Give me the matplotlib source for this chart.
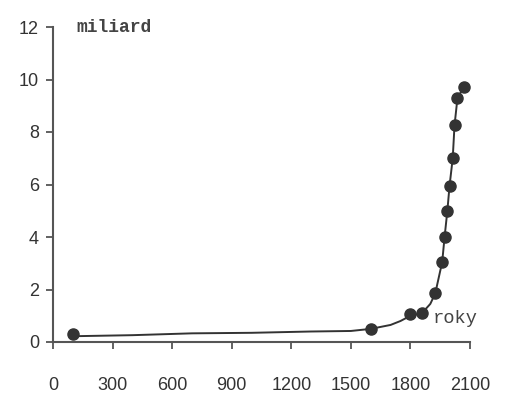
import matplotlib.pyplot as plt

# population in billions (miliard), dots
dot_years = [100, 1600, 1800, 1858, 1925, 1960, 1972, 1986, 1997, 2013, 2022, 2037, 2068]
dot_pop = [0.3, 0.5, 1.05, 1.1, 1.85, 3.05, 4.0, 5.0, 5.95, 7.0, 8.25, 9.3, 9.7]

# smooth line underneath
line_years = [100, 400, 700, 1000, 1300, 1500, 1600, 1700, 1750, 1800, 1858, 1900, 1925,
              1960, 1972, 1986, 1997, 2013, 2022, 2037, 2068]
line_pop = [0.22, 0.26, 0.33, 0.35, 0.4, 0.42, 0.5, 0.65, 0.8, 1.0, 1.1, 1.45, 1.85,
            3.05, 4.0, 5.0, 5.95, 7.0, 8.25, 9.3, 9.7]

xticks = [0, 300, 600, 900, 1200, 1500, 1800, 2100]
yticks = [0, 2, 4, 6, 8, 10, 12]

fig = plt.figure(figsize=(5.13, 3.93), dpi=100)
ax = fig.add_axes([53/513, 51/393, 417/513, 315/393])

ax.plot(line_years, line_pop, color='#333333', lw=1.4, zorder=2)
ax.plot(dot_years, dot_pop, 'o', color='#333333', ms=8, zorder=3)

ax.set_xlim(0, 2100)
ax.set_ylim(0, 12)
ax.set_xticks(xticks)
ax.set_yticks(yticks)

for s in ['top', 'right']:
    ax.spines[s].set_visible(False)
for s in ['left', 'bottom']:
    ax.spines[s].set_color('#555555')
    ax.spines[s].set_linewidth(1.5)

ax.tick_params(axis='x', direction='out', length=5, width=1.3, color='#555555',
               pad=20, labelsize=13, labelcolor='#333333')
ax.tick_params(axis='y', direction='out', length=5, width=1.3, color='#555555',
               pad=5, labelsize=13, labelcolor='#333333')
for lab in ax.get_xticklabels() + ax.get_yticklabels():
    lab.set_family('Liberation Sans')

ax.text(120, 12, 'miliard', family='Liberation Mono', fontsize=13, fontweight='bold',
        color='#444444', va='center', ha='left')
ax.text(1913, 0.9, 'roky', family='Liberation Mono', fontsize=13.5,
        color='#444444', va='center', ha='left')

plt.savefig('out.png', dpi=100)
